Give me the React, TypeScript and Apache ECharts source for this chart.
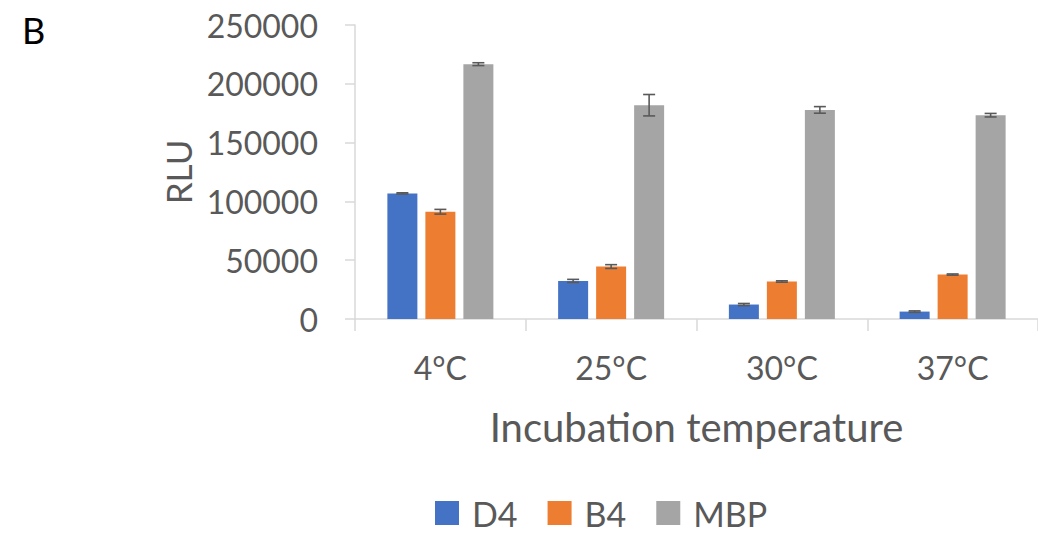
import React, { useEffect, useRef } from "react";
import * as echarts from "echarts";

const categories = ["4°C", "25°C", "30°C", "37°C"];
const seriesNames = ["D4", "B4", "MBP"];
const d4Values = [106800, 32400, 12300, 6300];
const b4Values = [91200, 44600, 31900, 37800];
const mbpValues = [216700, 181800, 177800, 173300];
const d4Errors = [500, 1300, 900, 600];
const b4Errors = [2000, 1600, 600, 500];
const mbpErrors = [1200, 9100, 2800, 1500];
const yTicks = [0, 50000, 100000, 150000, 200000, 250000];

const colors = ["#4472C4", "#ED7D31", "#A5A5A5"];
const FONT = "Lato, 'Open Sans', sans-serif";
const TEXT = "#595959";
const BAR_W = 30;
const BAR_GAP = 8;

export default function App() {
  const ref = useRef<HTMLDivElement>(null);
  useEffect(() => {
    if (!ref.current) return;
    const chart = echarts.init(ref.current, null, { renderer: "svg" });
    const values = [d4Values, b4Values, mbpValues];
    const errors = [d4Errors, b4Errors, mbpErrors];

    const barSeries = seriesNames.map((name, i) => ({
      name,
      type: "bar",
      data: values[i],
      barWidth: BAR_W,
      barGap: (BAR_GAP / BAR_W) * 100 + "%",
      itemStyle: { color: colors[i] },
    }));

    const errSeries = seriesNames.map((name, i) => ({
      name: name + " error",
      type: "custom",
      data: values[i].map((v, j) => [j, v, errors[i][j]]),
      z: 5,
      renderItem: (params: any, api: any) => {
        const c = api.value(0);
        const v = api.value(1);
        const e = api.value(2);
        const off = (i - 1) * (BAR_W + BAR_GAP);
        const top = api.coord([c, v + e]);
        const bot = api.coord([c, v - e]);
        const x = top[0] + off;
        const half = 6;
        const style = { stroke: "#595959", lineWidth: 1.6 };
        return {
          type: "group",
          children: [
            { type: "line", shape: { x1: x, y1: top[1], x2: x, y2: bot[1] }, style },
            { type: "line", shape: { x1: x - half, y1: top[1], x2: x + half, y2: top[1] }, style },
            { type: "line", shape: { x1: x - half, y1: bot[1], x2: x + half, y2: bot[1] }, style },
          ],
        };
      },
    }));

    chart.setOption({
      animation: false,
      grid: { left: 355, right: -8, top: 25, bottom: 214, containLabel: false },
      legend: {
        data: seriesNames,
        top: 496,
        left: 435,
        padding: 0,
        icon: "rect",
        itemWidth: 24,
        itemHeight: 24,
        itemGap: 30,
        textStyle: {
          color: TEXT,
          fontSize: 34,
          lineHeight: 34,
          fontFamily: FONT,
          padding: [0, 0, 0, 8],
        },
      },
      xAxis: {
        type: "category",
        data: categories,
        name: "Incubation temperature",
        nameLocation: "middle",
        nameGap: 88,
        nameTextStyle: { color: TEXT, fontSize: 40, fontFamily: FONT },
        axisLine: { lineStyle: { color: "#D9D9D9", width: 1.5 } },
        axisTick: { show: true, length: 12, lineStyle: { color: "#D9D9D9", width: 1.5 } },
        axisLabel: { color: TEXT, fontSize: 32, fontFamily: FONT, margin: 32 },
      },
      yAxis: {
        type: "value",
        min: yTicks[0],
        max: yTicks[yTicks.length - 1],
        interval: yTicks[1] - yTicks[0],
        name: "RLU",
        nameLocation: "middle",
        nameRotate: 90,
        nameGap: 141,
        nameTextStyle: { color: TEXT, fontSize: 35, fontFamily: FONT },
        axisLine: { show: true, lineStyle: { color: "#D9D9D9", width: 1.5 } },
        axisTick: { show: true, length: 10, lineStyle: { color: "#D9D9D9", width: 1.5 } },
        splitLine: { show: false },
        axisLabel: {
          color: TEXT,
          fontSize: 32,
          fontFamily: FONT,
          margin: 37,
          formatter: (v: number) => String(v),
        },
      },
      graphic: [
        {
          type: "text",
          left: 22,
          top: 12,
          style: { text: "B", fill: "#000", fontSize: 36, fontFamily: FONT },
        },
      ],
      series: [...barSeries, ...errSeries],
    });
    return () => chart.dispose();
  }, []);
  return <div ref={ref} style={{ width: 1038, height: 533, position: "absolute", left: 0, top: 0 }} />;
}
